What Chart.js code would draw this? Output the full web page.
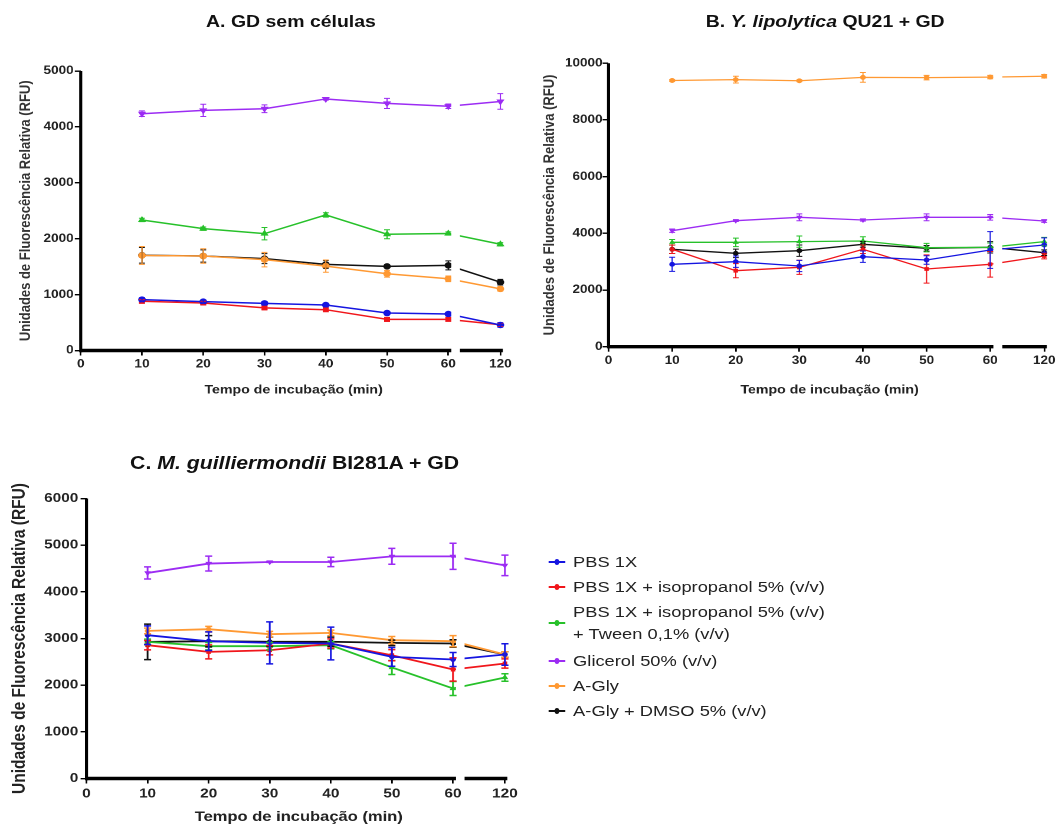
<!DOCTYPE html>
<html>
<head>
<meta charset="utf-8">
<script src="https://cdn.jsdelivr.net/npm/chart.js@4.4.1/dist/chart.umd.min.js"></script>
<style>
    body { margin: 0; background: #fff; }
    /* the figure is laid out at 900px and stretched sideways like the original image */
    #fig { position: relative; width: 900px; height: 832px; transform: scaleX(1.18); transform-origin: 0 0;
           font-family: "Liberation Sans", Arial, sans-serif; }
    #fig canvas { position: absolute; }
    .title { position: absolute; width: 400px; text-align: center; font-weight: bold; color: #111; white-space: nowrap; }
    #legend { position: absolute; left: 464.7px; top: 550.7px; font-size: 15.5px; line-height: 22px; color: #222; }
    #legend .item { display: flex; align-items: center; margin-bottom: 3px; white-space: nowrap; }
    #legend .item.two { margin-bottom: 5px; }
    #legend .mark { position: relative; flex: none; width: 14px; height: 2px; margin-right: 7px; }
    #legend .mark b { position: absolute; left: 5px; top: -2px; width: 4px; height: 6px; border-radius: 50%; }
</style>
</head>
<body>
<div id="fig">
    <canvas id="chartA" width="449" height="400" style="left:0;top:0"></canvas>
    <canvas id="chartB" width="451" height="400" style="left:449px;top:0"></canvas>
    <canvas id="chartC" width="449" height="432" style="left:0;top:400px"></canvas>
    <div class="title" style="left:46.6px;top:11px;font-size:16.5px;line-height:20px">A. GD sem células</div>
    <div class="title" style="left:499.3px;top:11px;font-size:16.5px;line-height:20px">B. <i>Y. lipolytica</i> QU21 + GD</div>
    <div class="title" style="left:49.7px;top:452px;font-size:18px;line-height:22px">C. <i>M. guilliermondii</i> BI281A + GD</div>
    <div id="legend"></div>
</div>
<script>
// incubation times (min) and axis ticks
const times = [10, 20, 30, 40, 50, 60, 120];
const xTicks = [0, 10, 20, 30, 40, 50, 60, 120];
const yTicksA = [0, 1000, 2000, 3000, 4000, 5000];
const yTicksB = [0, 2000, 4000, 6000, 8000, 10000];
const yTicksC = [0, 1000, 2000, 3000, 4000, 5000, 6000];

const legendLabels = [
    "PBS 1X",
    "PBS 1X + isopropanol 5% (v/v)",
    ["PBS 1X + isopropanol 5% (v/v)", "+ Tween 0,1% (v/v)"],
    "Glicerol 50% (v/v)",
    "A-Gly",
    "A-Gly + DMSO 5% (v/v)"
];

// A. GD sem células (mean, sd)
const aPbs = [910, 874, 844, 814, 670, 652, 456];
const aPbsErr = [35, 30, 30, 30, 30, 30, 40];
const aIso = [880, 850, 762, 730, 556, 556, 460];
const aIsoErr = [30, 30, 30, 30, 35, 30, 30];
const aTween = [2335, 2180, 2090, 2425, 2080, 2093, 1900];
const aTweenErr = [30, 30, 110, 40, 80, 30, 30];
const aGlic = [4236, 4295, 4325, 4500, 4420, 4370, 4455];
const aGlicErr = [50, 110, 70, 20, 90, 40, 140];
const aAgly = [1700, 1690, 1625, 1510, 1373, 1283, 1102];
const aAglyErr = [160, 130, 130, 110, 60, 50, 40];
const aDmso = [1703, 1691, 1643, 1541, 1505, 1523, 1222];
const aDmsoErr = [140, 110, 90, 70, 30, 80, 50];

// B. Y. lipolytica QU21 + GD
const bPbs = [2906, 2999, 2847, 3175, 3058, 3411, 3588];
const bPbsErr = [250, 200, 200, 200, 150, 650, 250];
const bIso = [3436, 2681, 2800, 3436, 2741, 2906, 3200];
const bIsoErr = [150, 250, 250, 150, 500, 450, 100];
const bTween = [3682, 3682, 3706, 3729, 3493, 3506, 3706];
const bTweenErr = [100, 150, 200, 150, 150, 150, 150];
const bGlic = [4092, 4445, 4564, 4469, 4564, 4564, 4434];
const bGlicErr = [60, 30, 120, 40, 120, 100, 50];
const bAgly = [9390, 9420, 9380, 9500, 9490, 9510, 9540];
const bAglyErr = [30, 120, 30, 170, 80, 60, 60];
const bDmso = [3436, 3294, 3387, 3612, 3471, 3506, 3316];
const bDmsoErr = [150, 150, 200, 100, 100, 200, 100];

// C. M. guilliermondii BI281A + GD
const cPbs = [3071, 2942, 2906, 2893, 2606, 2550, 2657];
const cPbsErr = [200, 200, 450, 350, 200, 150, 230];
const cIso = [2857, 2713, 2749, 2893, 2642, 2336, 2464];
const cIsoErr = [100, 150, 100, 100, 120, 250, 100];
const cTween = [2927, 2835, 2835, 2857, 2379, 1929, 2165];
const cTweenErr = [60, 80, 80, 80, 150, 150, 80];
const cGlic = [4405, 4606, 4640, 4640, 4760, 4760, 4567];
const cGlicErr = [130, 160, 10, 100, 170, 280, 220];
const cAgly = [3163, 3199, 3092, 3120, 2964, 2942, 2657];
const cAglyErr = [60, 60, 60, 60, 80, 120, 60];
const cDmso = [2927, 2942, 2930, 2930, 2906, 2893, 2657];
const cDmsoErr = [380, 120, 100, 100, 60, 80, 60];

const seriesColors = ["#1515e0", "#f0161b", "#27c12a", "#9c2cf3", "#ff9933", "#111111"];
const pointStyles = ["circle", "rect", "triangle", "triangle", "circle", "circle"];
const pointRotations = [0, 0, 0, 180, 0, 0];

// x axis is broken after 60 min: 120 min is drawn 8.5 units after 60
const breakAt = 60;
const squeeze = 8.5 / 60;
// gap and end of the x axis line, in drawn units
const gapFrom = 60.5, gapTo = 61.9, axisEnd = 68.9;

class BrokenScale extends Chart.LinearScale {
    parse(raw, index) {
        const v = super.parse(raw, index);
        if (v === null) return v;
        return v > breakAt ? breakAt + (v - breakAt) * squeeze : v;
    }
    buildTicks() {
        return xTicks.map(t => ({ value: this.parse(t) }));
    }
}
BrokenScale.id = "broken";
BrokenScale.defaults = {};
Chart.register(BrokenScale);

// thick black axes, with the gap in the x axis
const thickAxes = {
    id: "thickAxes",
    beforeDatasetsDraw(chart) {
        const ctx = chart.ctx, a = chart.chartArea, x = chart.scales.x;
        ctx.save();
        ctx.strokeStyle = "#000";
        ctx.lineWidth = 2.6;
        ctx.beginPath();
        ctx.moveTo(a.left, a.top);
        ctx.lineTo(a.left, a.bottom + 1.7);
        ctx.stroke();
        ctx.lineWidth = 3.4;
        ctx.beginPath();
        ctx.moveTo(a.left, a.bottom);
        ctx.lineTo(x.getPixelForValue(gapFrom), a.bottom);
        ctx.moveTo(x.getPixelForValue(gapTo), a.bottom);
        ctx.lineTo(x.getPixelForValue(axisEnd), a.bottom);
        ctx.stroke();
        ctx.restore();
    }
};

// lines stop at the axis break too
const lineGap = {
    id: "lineGap",
    beforeDatasetDraw(chart) {
        const ctx = chart.ctx, x = chart.scales.x;
        const g1 = x.getPixelForValue(gapFrom), g2 = x.getPixelForValue(gapTo);
        ctx.save();
        ctx.beginPath();
        ctx.rect(0, 0, g1, chart.height);
        ctx.rect(g2, 0, chart.width - g2, chart.height);
        ctx.clip();
    },
    afterDatasetDraw(chart) {
        chart.ctx.restore();
    }
};

const errorBars = {
    id: "errorBars",
    afterDatasetsDraw(chart, args, opts) {
        const ctx = chart.ctx, y = chart.scales.y;
        for (let i = chart.data.datasets.length - 1; i >= 0; i--) {
            const ds = chart.data.datasets[i];
            const meta = chart.getDatasetMeta(i);
            ctx.save();
            ctx.strokeStyle = ds.borderColor;
            ctx.lineWidth = opts.width;
            meta.data.forEach((pt, j) => {
                const v = ds.data[j].y, e = ds.errors[j];
                const top = y.getPixelForValue(v + e), bot = y.getPixelForValue(v - e);
                ctx.beginPath();
                ctx.moveTo(pt.x, top); ctx.lineTo(pt.x, bot);
                ctx.moveTo(pt.x - opts.cap, top); ctx.lineTo(pt.x + opts.cap, top);
                ctx.moveTo(pt.x - opts.cap, bot); ctx.lineTo(pt.x + opts.cap, bot);
                ctx.stroke();
            });
            ctx.restore();
        }
    }
};

function makePanel(id, series, yTicks, look) {
    const font = "'Liberation Sans', Arial, sans-serif";
    return new Chart(document.getElementById(id), {
        type: "line",
        data: {
            datasets: series.map((s, i) => ({
                label: [].concat(legendLabels[i]).join(" "),
                data: times.map((t, j) => ({ x: t, y: s[0][j] })),
                errors: s[1],
                borderColor: seriesColors[i],
                backgroundColor: seriesColors[i],
                borderWidth: look.line,
                pointRadius: look.point,
                pointStyle: pointStyles[i],
                rotation: pointRotations[i],
                tension: 0
            }))
        },
        options: {
            responsive: false,
            animation: false,
            devicePixelRatio: 2,
            layout: { padding: { top: look.top, right: look.right, left: 0, bottom: 0 } },
            plugins: {
                legend: { display: false },
                tooltip: { enabled: false },
                errorBars: { width: look.err, cap: look.cap }
            },
            scales: {
                x: {
                    type: "broken",
                    min: 0,
                    max: 127,   // in minutes; lands just past the 120 tick
                    border: { display: false },
                    grid: { drawOnChartArea: false, tickLength: 5, color: "#000", lineWidth: 1.4 },
                    ticks: {
                        autoSkip: false, maxRotation: 0, padding: look.xPad, color: "#222",
                        font: { family: font, size: look.tick, weight: "bold" },
                        callback: (v, i) => String(xTicks[i])
                    },
                    title: {
                        display: true, text: "Tempo de incubação (min)", color: "#222",
                        font: { family: font, size: look.xTitle, weight: "bold" },
                        padding: { top: 0, bottom: look.xTitlePad }
                    },
                    afterFit: s => { s.height = look.xHeight; }
                },
                y: {
                    min: yTicks[0],
                    max: yTicks[yTicks.length - 1],
                    border: { display: false },
                    grid: { drawOnChartArea: false, tickLength: 5, color: "#000", lineWidth: 1.4 },
                    ticks: {
                        stepSize: yTicks[1] - yTicks[0], padding: look.yPad, color: "#222",
                        font: { family: font, size: look.tick, weight: "bold" },
                        callback: v => String(v)
                    },
                    title: {
                        display: true, text: "Unidades de Fluorescência Relativa (RFU)", color: look.yColor,
                        font: { family: font, size: look.yTitle, weight: "bold" },
                        padding: { top: look.yTitlePad, bottom: 0 }
                    },
                    afterFit: s => { s.width = look.yWidth; }
                }
            }
        },
        plugins: [thickAxes, lineGap, errorBars]
    });
}

makePanel("chartA", [
    [aPbs, aPbsErr], [aIso, aIsoErr], [aTween, aTweenErr],
    [aGlic, aGlicErr], [aAgly, aAglyErr], [aDmso, aDmsoErr]
], yTicksA, {
    top: 71, right: 19.8, yWidth: 68.4, xHeight: 49.5, tick: 11.5, xTitle: 12, yTitle: 13,
    xPad: 2, yPad: 1, xTitlePad: 2.8, yTitlePad: 14.2, yColor: "#333",
    line: 1.5, point: 2.5, err: 1, cap: 2.5
});

makePanel("chartB", [
    [bPbs, bPbsErr], [bIso, bIsoErr], [bTween, bTweenErr],
    [bGlic, bGlicErr], [bAgly, bAglyErr], [bDmso, bDmsoErr]
], yTicksB, {
    top: 63.2, right: 9.7, yWidth: 66.7, xHeight: 53.3, tick: 11.5, xTitle: 12, yTitle: 13,
    xPad: 2, yPad: 0, xTitlePad: 2.8, yTitlePad: 9.1, yColor: "#333",
    line: 1.3, point: 1.8, err: 1, cap: 2.5
});

makePanel("chartC", [
    [cPbs, cPbsErr], [cIso, cIsoErr], [cTween, cTweenErr],
    [cGlic, cGlicErr], [cAgly, cAglyErr], [cDmso, cDmsoErr]
], yTicksC, {
    top: 98.5, right: 16, yWidth: 73.3, xHeight: 53.5, tick: 13, xTitle: 14, yTitle: 15.5,
    xPad: 2.7, yPad: 2, xTitlePad: 6.6, yTitlePad: 7.2, yColor: "#222",
    line: 1.8, point: 1.5, err: 1.5, cap: 3
});

// legend lives next to panel C
const legendBox = document.getElementById("legend");
legendLabels.forEach((label, i) => {
    const lines = [].concat(label);
    const row = document.createElement("div");
    row.className = lines.length > 1 ? "item two" : "item";
    row.innerHTML = '<span class="mark" style="background:' + seriesColors[i] + '"><b style="background:' +
        seriesColors[i] + '"></b></span><span>' + lines.join("<br>") + "</span>";
    legendBox.appendChild(row);
});
</script>
</body>
</html>
